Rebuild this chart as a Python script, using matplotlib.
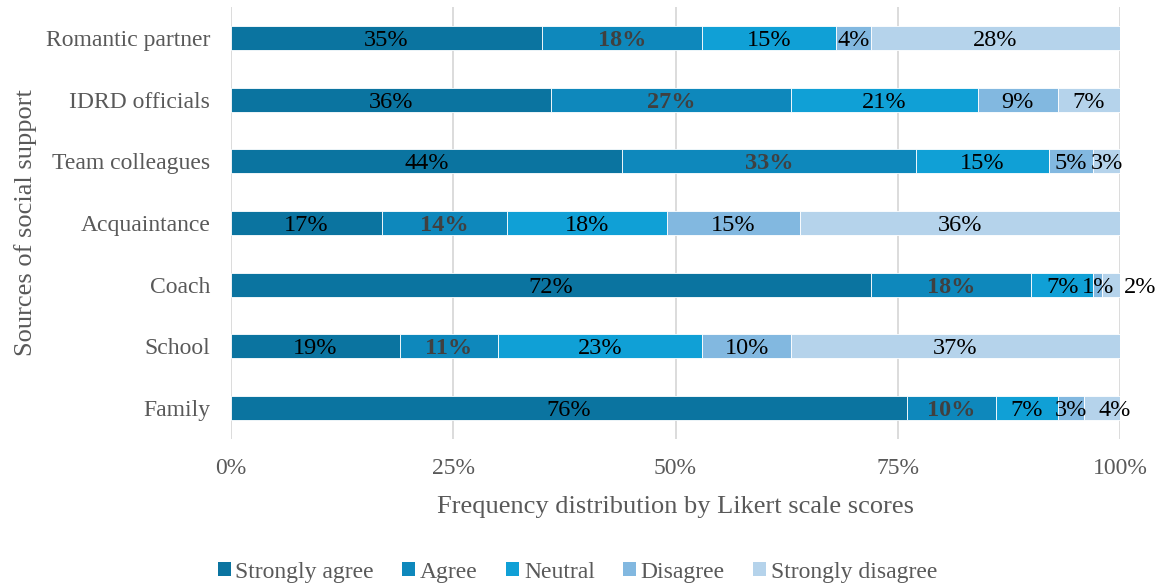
import numpy as np
import matplotlib.pyplot as plt
from matplotlib.patches import Patch

plt.rcParams["font.family"] = ["Liberation Serif", "DejaVu Serif"]

# ---------------------------- DATA -------------------------------------
sources   = ["Romantic partner", "IDRD officials", "Team colleagues",
             "Acquaintance", "Coach", "School", "Family"]
strongly_agree    = [35, 36, 44, 17, 72, 19, 76]
agree             = [18, 27, 33, 14, 18, 11, 10]
neutral           = [15, 21, 15, 18, 7, 23, 7]
disagree          = [4, 9, 5, 15, 1, 10, 3]
strongly_disagree = [28, 7, 3, 36, 2, 37, 4]
levels = ["Strongly agree", "Agree", "Neutral", "Disagree", "Strongly disagree"]
xticks = [0, 25, 50, 75, 100]

# ---------------------------- STYLE ------------------------------------
colors = ["#0b74a0", "#0e88bc", "#10a0d6", "#82b8e0", "#b5d3eb"]
grey   = "#595959"
# small labels that sit past the bar end (offset in points)
nudge  = {("Coach", 4): 21, ("Family", 4): 9}

series = [strongly_agree, agree, neutral, disagree, strongly_disagree]

fig = plt.figure(figsize=(11.62, 5.88), dpi=100)
ax = fig.add_axes([0.1988, 0.2534, 0.9639 - 0.1988, 0.988 - 0.2534])

y = np.arange(len(sources))[::-1]
left = np.zeros(len(sources))
for k, (vals, c) in enumerate(zip(series, colors)):
    vals = np.array(vals, dtype=float)
    ax.barh(y, vals, left=left, height=0.39, color=c,
            edgecolor="white", linewidth=0.6, zorder=3)
    for i, v in enumerate(vals):
        dx = nudge.get((sources[i], k), 0)
        bold = (k == 1)
        ax.annotate(f"{v:.0f}%", (left[i] + v / 2, y[i]),
                    xytext=(dx, 0), textcoords="offset points",
                    ha="center", va="center_baseline", fontsize=17.5,
                    fontweight="bold" if bold else "normal",
                    color="#404040" if bold else "black", zorder=4)
    left += vals

ax.set_xlim(0, 100)
ax.set_ylim(-0.5, len(sources) - 0.5)
ax.set_yticks(y)
ax.set_yticklabels(sources, fontsize=17, color=grey)
ax.set_xticks(xticks)
ax.set_xticklabels([f"{t}%" for t in xticks], fontsize=17, color=grey)
ax.tick_params(length=0, pad=15)
ax.tick_params(axis="x", pad=14)
for s in ax.spines.values():
    s.set_visible(False)
ax.grid(axis="x", color="#d9d9d9", lw=1.3, zorder=0)
ax.set_axisbelow(True)

ax.set_xlabel("Frequency distribution by Likert scale scores",
              fontsize=19, color=grey, labelpad=12)
ax.set_ylabel("Sources of social support", fontsize=19, color=grey,
              labelpad=6)

handles = [Patch(facecolor=c, edgecolor="none") for c in colors]
fig.legend(handles, levels, loc="center", bbox_to_anchor=(0.497, 0.027),
           ncol=5, frameon=False, fontsize=17, labelcolor=grey,
           handlelength=0.55, handleheight=0.55, handletextpad=0.2,
           columnspacing=1.2)

fig.savefig("out.png", dpi=100)
